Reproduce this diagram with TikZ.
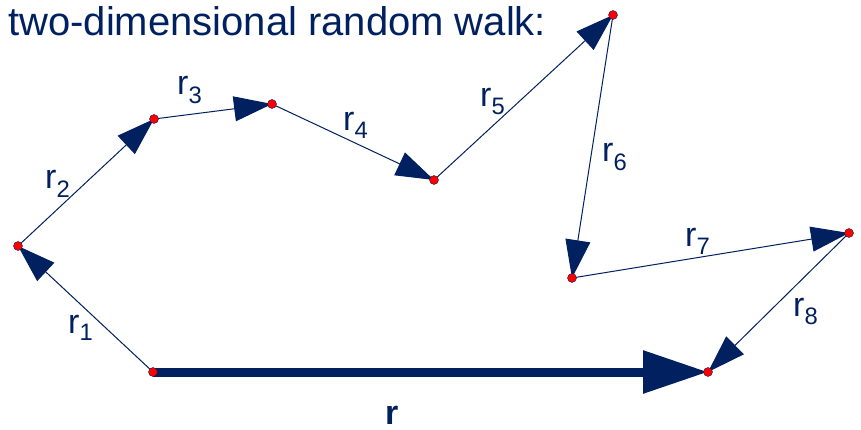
\documentclass[tikz,border=0pt]{standalone}
\usepackage{fontspec}
\setmainfont{Liberation Sans}
\usetikzlibrary{arrows.meta,positioning}
\definecolor{navy}{RGB}{0,32,96}

\begin{document}
\begin{tikzpicture}[x=1pt,y=-1pt,
    walkstep/.style={navy,line width=1pt,-{Triangle[length=38pt,width=25pt]}},
    total/.style={navy,line width=9pt,-{Triangle[length=65pt,width=41pt]}},
    dot/.style={circle,fill=red,draw=navy,line width=0.4pt,inner sep=0pt,minimum size=9pt},
    lab/.style={navy,anchor=base west,inner sep=0pt,font=\fontsize{34}{36}\selectfont}]
    \useasboundingbox (0,0) rectangle (861,430);

    % Title
    \node[navy,anchor=base west,inner sep=0pt,font=\fontsize{40}{44}\selectfont] (title) at (8,36) {two-dimensional random walk:};

    % Walk points
    \coordinate (p0) at (153,372);
    \coordinate (p1) at (18,246);
    \coordinate (p2) at (154,119);
    \coordinate (p3) at (272,104);
    \coordinate (p4) at (434,180);
    \coordinate (p5) at (613,15);
    \coordinate (p6) at (572,278);
    \coordinate (p7) at (849,233);
    \coordinate (p8) at (708,372);

    % Resulting vector
    \draw[total] (p0) -- (p8);

    % Single steps
    \foreach \i [evaluate=\i as \j using int(\i-1)] in {1,...,8}
        \draw[walkstep] (p\j) -- (p\i);

    % Points
    \foreach \i in {0,...,8}
        \node[dot] (d\i) at (p\i) {};

    % Labels
    \node[lab] (l1) at (68,333) {r\textsubscript{1}};
    \node[lab] (l2) at (45,189) {r\textsubscript{2}};
    \node[lab] (l3) at (177,95) {r\textsubscript{3}};
    \node[lab] (l4) at (343,131) {r\textsubscript{4}};
    \node[lab] (l5) at (480,107) {r\textsubscript{5}};
    \node[lab] (l6) at (602,162) {r\textsubscript{6}};
    \node[lab] (l7) at (685,247) {r\textsubscript{7}};
    \node[lab] (l8) at (793,316) {r\textsubscript{8}};
    \node[lab] (lr) at (385,424) {\textbf{r}};
\end{tikzpicture}
\end{document}
